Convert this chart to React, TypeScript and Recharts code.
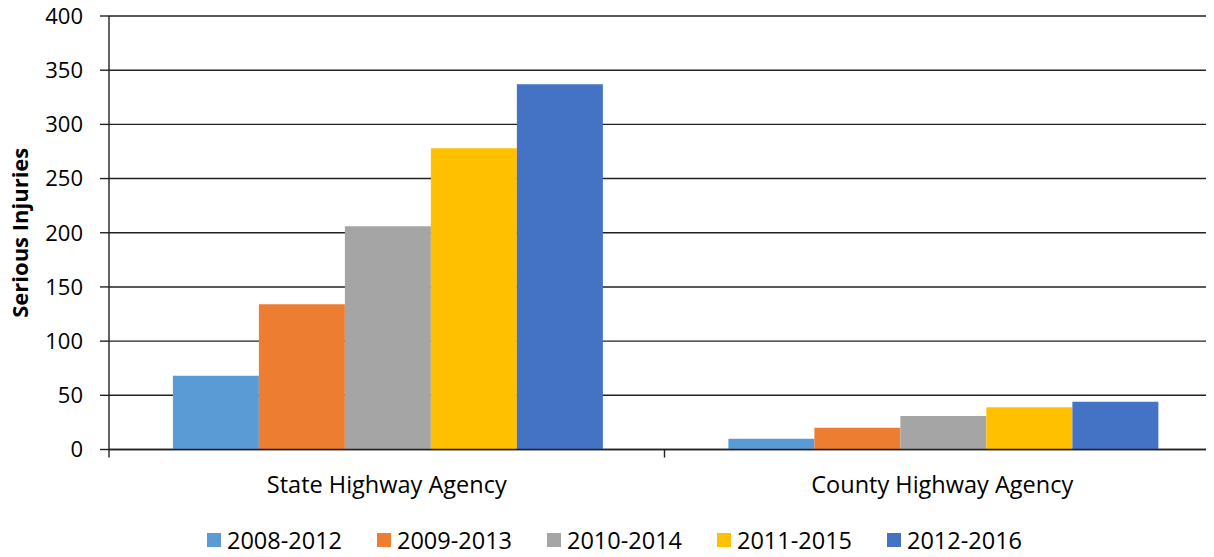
import React from 'react';
import { Bar, BarChart, CartesianGrid, Legend, XAxis, YAxis } from 'recharts';

const categories = ['State Highway Agency', 'County Highway Agency'];
const periods = ['2008-2012', '2009-2013', '2010-2014', '2011-2015', '2012-2016'];
const values2008_2012 = [68, 10];
const values2009_2013 = [134, 20];
const values2010_2014 = [206, 31];
const values2011_2015 = [278, 39];
const values2012_2016 = [337, 44];
const yTicks = [0, 50, 100, 150, 200, 250, 300, 350, 400];

const colors = ['#5B9BD5', '#ED7D31', '#A5A5A5', '#FFC000', '#4472C4'];
const seriesValues = [values2008_2012, values2009_2013, values2010_2014, values2011_2015, values2012_2016];

const data = categories.map((name, i) => {
  const row: Record<string, string | number> = { name };
  periods.forEach((p, s) => {
    row[p] = seriesValues[s][i];
  });
  return row;
});

const FONT = '"Open Sans", sans-serif';
const LINE = '#222';

const CategoryTick = (props: any) => {
  const { x, y, payload } = props;
  const half = payload?.offset ?? 0;
  return (
    <g>
      <line x1={x - half} x2={x - half} y1={y} y2={y + 8} stroke={LINE} strokeWidth={1.4} />
      <text x={x} y={y + 43} textAnchor="middle" fill="#000" fontSize={23.5} fontFamily={FONT}>
        {payload.value}
      </text>
    </g>
  );
};

const LegendRow = () => (
  <div
    style={{
      display: 'flex',
      height: 48,
      paddingTop: 19,
      paddingLeft: 207,
      boxSizing: 'border-box',
      fontFamily: FONT,
      fontSize: 23.5,
      color: '#000'
    }}
  >
    {periods.map((p, i) => (
      <div key={p} style={{ width: 170, display: 'flex', alignItems: 'center', height: 24 }}>
        <span style={{ width: 14, height: 14, background: colors[i], marginRight: 6, display: 'inline-block' }} />
        <span style={{ lineHeight: '24px' }}>{p}</span>
      </div>
    ))}
  </div>
);

const App: React.FC = () => {
  return (
    <div style={{ margin: -8, width: 1214, height: 557, overflow: 'hidden', background: '#fff' }}>
      <BarChart
        width={1222}
        height={557}
        data={data}
        margin={{ top: 16, right: 2, left: 0, bottom: 0 }}
        barCategoryGap="11.5%"
        barGap={0}
      >
        <CartesianGrid vertical={false} stroke={LINE} strokeWidth={1.4} />
        <XAxis
          dataKey="name"
          height={59.5}
          stroke={LINE}
          strokeWidth={1.4}
          tickLine={false}
          tickSize={0}
          tickMargin={0}
          tick={<CategoryTick />}
          interval={0}
        />
        <YAxis
          width={109}
          domain={[0, 400]}
          ticks={yTicks}
          stroke={LINE}
          strokeWidth={1.4}
          tickSize={9}
          tickMargin={17}
          tick={{ fill: '#000', fontSize: 22, fontFamily: FONT }}
          label={{
            value: 'Serious Injuries',
            angle: -90,
            position: 'insideLeft',
            offset: 20,
            style: { textAnchor: 'middle', fontWeight: 'bold', fontSize: 22, fontFamily: FONT, fill: '#000' }
          }}
        />
        <Legend verticalAlign="bottom" content={<LegendRow />} wrapperStyle={{ left: 0, width: 1214 }} />
        {periods.map((p, i) => (
          <Bar key={p} dataKey={p} fill={colors[i]} isAnimationActive={false} />
        ))}
      </BarChart>
    </div>
  );
};

export default App;
